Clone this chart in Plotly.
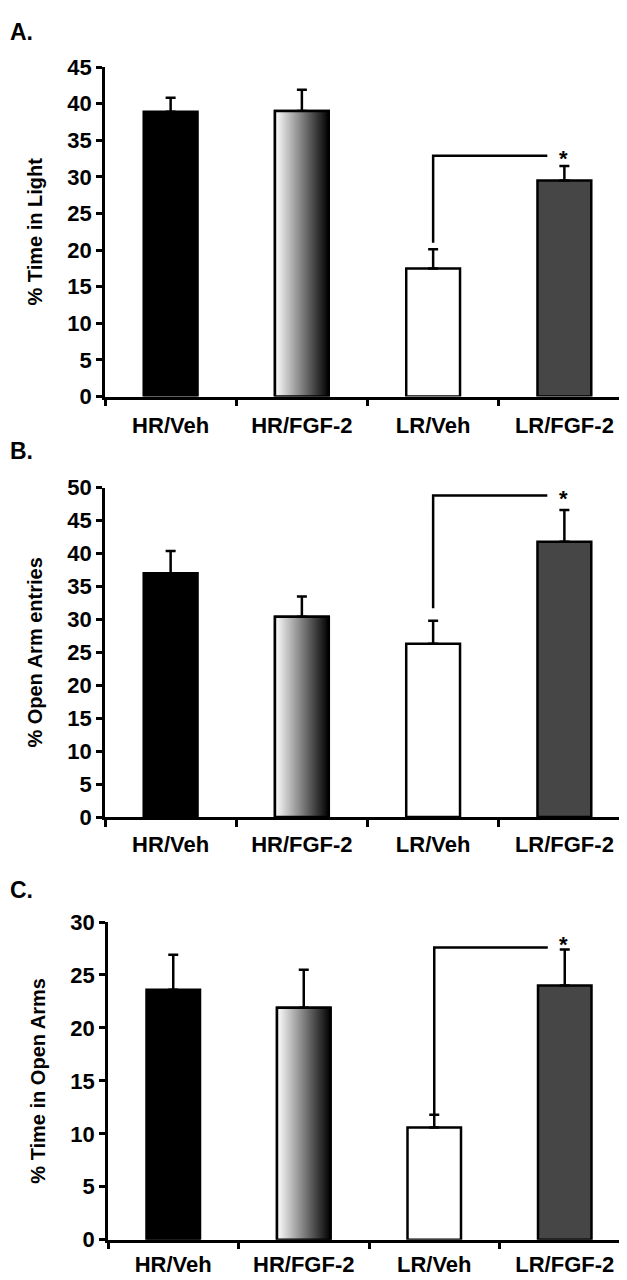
import plotly.graph_objects as go

groups = ["HR/Veh", "HR/FGF-2", "LR/Veh", "LR/FGF-2"]

# A. light/dark box
light_mean = [38.9, 39.0, 17.5, 29.5]
light_sem = [1.9, 2.9, 2.6, 2.0]
# B. elevated plus maze, open arm entries
entries_mean = [37.0, 30.4, 26.3, 41.8]
entries_sem = [3.4, 3.1, 3.5, 4.8]
# C. elevated plus maze, time in open arms
openarm_mean = [23.6, 21.9, 10.6, 24.0]
openarm_sem = [3.3, 3.6, 1.2, 3.4]

# significance bracket LR/Veh vs LR/FGF-2 (bottom of drop line, top line)
bracket_low = [21.0, 31.7, 11.8]
bracket_top = [32.9, 48.8, 27.6]

panels = [
    ("A.", "% Time in Light", light_mean, light_sem, 45, bracket_low[0], bracket_top[0]),
    ("B.", "% Open Arm entries", entries_mean, entries_sem, 50, bracket_low[1], bracket_top[1]),
    ("C.", "% Time in Open Arms", openarm_mean, openarm_sem, 30, bracket_low[2], bracket_top[2]),
]

H, W = 1280, 627
# pixel boxes of each plot area (top, bottom, left)
boxes = [(48, 384, 97), (477, 813, 97), (920, 1244, 100)]
label_y = [12, 440, 887]
standoff = [7, 6, 3]
star_shift = [-3, -3, 3]

bar_w = 0.41
colors = ["#000000", "rgba(0,0,0,0)", "#ffffff", "#464646"]
FAM = "Liberation Sans, Arial"
font = dict(family=FAM, size=22, color="black", weight="bold")

fig = go.Figure()
layout = {}
annotations = []

for i, (lab, ytitle, mean, sem, ymax, blow, btop) in enumerate(panels):
    n = "" if i == 0 else str(i + 1)
    xa, ya = "x" + n, "y" + n
    top, bot, left = boxes[i]

    fig.add_trace(go.Bar(
        x=list(range(len(groups))), y=mean, width=bar_w,
        marker=dict(color=colors, line=dict(color="black", width=2.5)),
        error_y=dict(type="data", symmetric=False, array=sem,
                     arrayminus=[0] * len(sem), color="black", thickness=2.5, width=5),
        xaxis=xa, yaxis=ya, showlegend=False, hoverinfo="skip",
    ))

    # gradient bar for HR/FGF-2
    g = 1
    x0, x1 = g - bar_w / 2, g + bar_w / 2
    fig.add_trace(go.Scatter(
        x=[x0, x1, x1, x0, x0], y=[0, 0, mean[g], mean[g], 0],
        mode="lines", fill="toself",
        fillgradient=dict(type="horizontal",
                          colorscale=[[0, "#ffffff"], [1, "#000000"]]),
        line=dict(color="black", width=2.5),
        xaxis=xa, yaxis=ya, showlegend=False, hoverinfo="skip",
    ))

    # bracket
    fig.add_trace(go.Scatter(
        x=[2, 2, 2.87], y=[blow, btop, btop], mode="lines",
        line=dict(color="black", width=2.5),
        xaxis=xa, yaxis=ya, showlegend=False, hoverinfo="skip",
    ))
    annotations.append(dict(
        x=2.99, y=btop, xref=xa, yref=ya, text="*", showarrow=False,
        font=dict(family=FAM, size=22, color="black", weight="bold"),
        yshift=star_shift[i],
    ))

    layout["xaxis" + n] = dict(
        domain=[left / W, 622 / W], anchor=ya, range=[-0.5, 3.5],
        showline=True, linewidth=2.5, linecolor="black", showgrid=False, zeroline=False,
        tickmode="array", tickvals=list(range(len(groups))), ticktext=groups,
        ticks="", ticklabelstandoff=standoff[i], tickfont=font,
        minor=dict(tickmode="array", tickvals=[-0.5, 0.5, 1.5, 2.5, 3.5],
                   ticks="outside", ticklen=7, tickwidth=2.5, tickcolor="black",
                   showgrid=False),
    )
    layout["yaxis" + n] = dict(
        domain=[1 - bot / H, 1 - top / H], anchor=xa, range=[0, ymax],
        dtick=5, tick0=0, ticks="outside", ticklen=6, tickwidth=2.5, tickcolor="black",
        showline=True, linewidth=2.5, linecolor="black", showgrid=False, zeroline=False,
        tickfont=font,
        title=dict(text=ytitle, font=dict(family=FAM, size=20, color="black",
                                          weight="bold"), standoff=20),
    )
    annotations.append(dict(
        x=0, y=1 - label_y[i] / H, xref="paper", yref="paper", text=lab,
        showarrow=False, xanchor="left", yanchor="middle",
        font=dict(family=FAM, size=23, color="black", weight="bold"),
    ))

fig.update_layout(
    width=W, height=H,
    margin=dict(l=0, r=0, t=0, b=0),
    paper_bgcolor="white", plot_bgcolor="white",
    annotations=annotations,
    **layout,
)

fig.write_html("out.html")
